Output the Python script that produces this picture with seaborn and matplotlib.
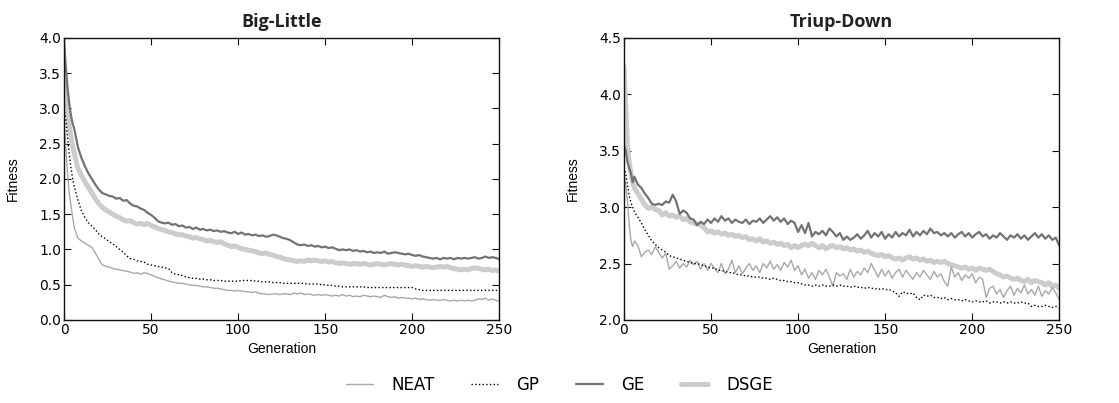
import matplotlib
matplotlib.use("Agg")
import matplotlib.pyplot as plt
import seaborn as sns
import pandas as pd
from matplotlib.lines import Line2D

# x positions (generations) shared by every series
GEN = [0, 1, 2, 3, 4, 5, 6] + list(range(8, 251, 2))

# ---------------- Big-Little ----------------
BL_NEAT = [2.90, 2.45, 2.10, 1.80, 1.62, 1.45, 1.30,
           1.16, 1.12, 1.09, 1.06, 1.03, 0.95, 0.86, 0.78, 0.76, 0.75,
           0.73, 0.72, 0.71, 0.70, 0.69, 0.68, 0.66, 0.67, 0.65, 0.67,
           0.66, 0.64, 0.62, 0.60, 0.58, 0.57, 0.55, 0.54, 0.53, 0.52,
           0.52, 0.51, 0.50, 0.49, 0.49, 0.48, 0.47, 0.47, 0.46, 0.45,
           0.45, 0.44, 0.43, 0.42, 0.42, 0.41, 0.42, 0.41, 0.40, 0.40,
           0.39, 0.40, 0.38, 0.37, 0.37, 0.36, 0.37, 0.37, 0.36, 0.37,
           0.37, 0.36, 0.38, 0.37, 0.38, 0.36, 0.37, 0.36, 0.35, 0.36,
           0.35, 0.36, 0.35, 0.34, 0.35, 0.34, 0.36, 0.34, 0.35, 0.33,
           0.34, 0.33, 0.35, 0.34, 0.33, 0.34, 0.33, 0.32, 0.35, 0.33,
           0.32, 0.33, 0.31, 0.32, 0.31, 0.31, 0.30, 0.31, 0.29, 0.30,
           0.29, 0.28, 0.29, 0.28, 0.28, 0.29, 0.28, 0.27, 0.28, 0.27,
           0.28, 0.27, 0.28, 0.27, 0.28, 0.30, 0.29, 0.31, 0.28, 0.30,
           0.28, 0.26]
BL_GP = [3.00, 2.85, 2.60, 2.35, 2.15, 2.00, 1.88,
         1.70, 1.55, 1.45, 1.38, 1.33, 1.28, 1.22, 1.18, 1.15, 1.11,
         1.08, 1.04, 1.00, 0.96, 0.91, 0.87, 0.86, 0.84, 0.83, 0.82,
         0.79, 0.78, 0.77, 0.76, 0.75, 0.74, 0.73, 0.67, 0.65, 0.64,
         0.63, 0.61, 0.60, 0.59, 0.59, 0.58, 0.58, 0.57, 0.57, 0.56,
         0.56, 0.56, 0.55, 0.55, 0.55, 0.55, 0.55, 0.56, 0.56, 0.56,
         0.56, 0.55, 0.55, 0.54, 0.54, 0.54, 0.53, 0.53, 0.53, 0.52,
         0.52, 0.52, 0.52, 0.52, 0.52, 0.52, 0.51, 0.51, 0.51, 0.51,
         0.50, 0.50, 0.49, 0.49, 0.48, 0.48, 0.47, 0.47, 0.47, 0.47,
         0.47, 0.47, 0.47, 0.46, 0.46, 0.46, 0.46, 0.46, 0.46, 0.46,
         0.46, 0.46, 0.46, 0.46, 0.46, 0.46, 0.46, 0.44, 0.43, 0.42,
         0.42, 0.42, 0.42, 0.42, 0.42, 0.42, 0.42, 0.42, 0.42, 0.42,
         0.42, 0.42, 0.42, 0.42, 0.42, 0.42, 0.42, 0.42, 0.42, 0.42,
         0.42, 0.42]
BL_GE = [3.95, 3.60, 3.30, 3.07, 2.90, 2.78, 2.70,
         2.45, 2.30, 2.18, 2.08, 2.00, 1.92, 1.85, 1.80, 1.78, 1.76,
         1.75, 1.72, 1.73, 1.69, 1.70, 1.65, 1.62, 1.61, 1.58, 1.56,
         1.52, 1.49, 1.45, 1.40, 1.38, 1.37, 1.38, 1.35, 1.36, 1.33,
         1.34, 1.31, 1.32, 1.29, 1.31, 1.28, 1.29, 1.27, 1.28, 1.26,
         1.27, 1.25, 1.26, 1.24, 1.23, 1.25, 1.22, 1.24, 1.21, 1.22,
         1.20, 1.21, 1.19, 1.20, 1.18, 1.19, 1.21, 1.20, 1.18, 1.16,
         1.15, 1.13, 1.10, 1.07, 1.06, 1.07, 1.05, 1.06, 1.04, 1.05,
         1.03, 1.04, 1.02, 1.03, 1.01, 0.99, 1.00, 0.99, 1.00, 0.98,
         0.99, 0.97, 0.98, 0.96, 0.97, 0.95, 0.96, 0.95, 0.97, 0.94,
         0.95, 0.96, 0.95, 0.94, 0.93, 0.94, 0.92, 0.91, 0.92, 0.90,
         0.89, 0.88, 0.87, 0.88, 0.86, 0.88, 0.87, 0.88, 0.86, 0.88,
         0.87, 0.88, 0.87, 0.88, 0.89, 0.87, 0.88, 0.90, 0.88, 0.89,
         0.88, 0.86]
BL_DSGE = [3.60, 3.20, 2.95, 2.75, 2.60, 2.45, 2.35,
           2.15, 2.05, 1.96, 1.88, 1.80, 1.72, 1.65, 1.60, 1.56, 1.53,
           1.50, 1.47, 1.45, 1.42, 1.40, 1.41, 1.38, 1.36, 1.37, 1.35,
           1.37, 1.34, 1.32, 1.30, 1.28, 1.27, 1.25, 1.24, 1.22, 1.21,
           1.21, 1.19, 1.18, 1.16, 1.17, 1.15, 1.14, 1.12, 1.13, 1.11,
           1.10, 1.11, 1.08, 1.06, 1.04, 1.05, 1.03, 1.01, 1.00, 0.99,
           0.98, 0.97, 0.95, 0.94, 0.95, 0.93, 0.92, 0.90, 0.89, 0.87,
           0.86, 0.85, 0.84, 0.83, 0.84, 0.83, 0.85, 0.84, 0.85, 0.84,
           0.83, 0.84, 0.82, 0.83, 0.81, 0.80, 0.81, 0.80, 0.79, 0.80,
           0.80, 0.79, 0.80, 0.79, 0.78, 0.79, 0.80, 0.79, 0.78, 0.79,
           0.80, 0.79, 0.78, 0.79, 0.78, 0.77, 0.76, 0.77, 0.76, 0.75,
           0.76, 0.75, 0.74, 0.75, 0.76, 0.75, 0.76, 0.74, 0.73, 0.72,
           0.71, 0.72, 0.71, 0.73, 0.74, 0.73, 0.72, 0.71, 0.72, 0.70,
           0.71, 0.69]

# ---------------- Triup-Down ----------------
TD_NEAT = [3.30, 3.20, 3.05, 2.85, 2.70, 2.65, 2.70,
           2.66, 2.56, 2.60, 2.62, 2.58, 2.65, 2.60, 2.55, 2.59, 2.45,
           2.48, 2.52, 2.46, 2.50, 2.47, 2.53, 2.49, 2.52, 2.45, 2.50,
           2.44, 2.50, 2.46, 2.42, 2.50, 2.41, 2.45, 2.53, 2.42, 2.48,
           2.41, 2.46, 2.50, 2.44, 2.48, 2.42, 2.50, 2.46, 2.52, 2.45,
           2.49, 2.44, 2.51, 2.47, 2.53, 2.44, 2.48, 2.40, 2.45, 2.37,
           2.42, 2.36, 2.44, 2.40, 2.45, 2.38, 2.30, 2.42, 2.39, 2.41,
           2.36, 2.45, 2.38, 2.43, 2.40, 2.46, 2.42, 2.50, 2.44, 2.38,
           2.45, 2.39, 2.44, 2.37, 2.42, 2.45, 2.38, 2.44, 2.40, 2.36,
           2.42, 2.38, 2.44, 2.40, 2.36, 2.43, 2.38, 2.41, 2.34, 2.30,
           2.47, 2.38, 2.42, 2.35, 2.40, 2.37, 2.41, 2.33, 2.38, 2.36,
           2.20, 2.28, 2.30, 2.23, 2.27, 2.20, 2.26, 2.30, 2.22, 2.28,
           2.24, 2.31, 2.23, 2.27, 2.22, 2.30, 2.21, 2.26, 2.23, 2.29,
           2.24, 2.18]
TD_GP = [3.35, 3.30, 3.20, 3.10, 3.04, 3.00, 2.96,
         2.91, 2.86, 2.80, 2.75, 2.70, 2.67, 2.64, 2.62, 2.60, 2.57,
         2.56, 2.55, 2.54, 2.53, 2.52, 2.51, 2.50, 2.50, 2.49, 2.48,
         2.47, 2.46, 2.46, 2.44, 2.44, 2.43, 2.42, 2.42, 2.41, 2.40,
         2.40, 2.39, 2.39, 2.38, 2.38, 2.38, 2.37, 2.37, 2.36, 2.37,
         2.36, 2.35, 2.35, 2.34, 2.34, 2.33, 2.33, 2.32, 2.31, 2.31,
         2.30, 2.31, 2.30, 2.31, 2.30, 2.30, 2.31, 2.30, 2.31, 2.30,
         2.30, 2.29, 2.30, 2.29, 2.29, 2.28, 2.29, 2.28, 2.28, 2.27,
         2.28, 2.27, 2.27, 2.26, 2.24, 2.21, 2.25, 2.24, 2.23, 2.24,
         2.20, 2.18, 2.22, 2.21, 2.22, 2.20, 2.20, 2.19, 2.20, 2.18,
         2.19, 2.18, 2.18, 2.17, 2.18, 2.17, 2.16, 2.17, 2.16, 2.16,
         2.17, 2.15, 2.16, 2.16, 2.15, 2.16, 2.15, 2.16, 2.15, 2.15,
         2.16, 2.15, 2.15, 2.12, 2.13, 2.12, 2.12, 2.13, 2.12, 2.11,
         2.12, 2.11]
TD_GE = [3.55, 3.50, 3.40, 3.35, 3.30, 3.22, 3.27,
         3.20, 3.17, 3.12, 3.08, 3.03, 3.02, 3.03, 3.02, 3.05, 3.04,
         3.11, 3.05, 2.94, 2.97, 2.95, 2.90, 2.89, 2.84, 2.87, 2.85,
         2.89, 2.86, 2.90, 2.87, 2.92, 2.88, 2.90, 2.86, 2.89, 2.87,
         2.86, 2.89, 2.85, 2.88, 2.87, 2.90, 2.86, 2.89, 2.92, 2.88,
         2.91, 2.87, 2.90, 2.85, 2.88, 2.86, 2.78, 2.84, 2.77, 2.86,
         2.74, 2.78, 2.76, 2.79, 2.75, 2.81, 2.78, 2.74, 2.77, 2.71,
         2.74, 2.71, 2.73, 2.76, 2.72, 2.75, 2.79, 2.73, 2.77, 2.74,
         2.78, 2.72, 2.76, 2.73, 2.78, 2.74, 2.77, 2.75, 2.80, 2.74,
         2.78, 2.75, 2.79, 2.76, 2.81, 2.77, 2.78, 2.75, 2.77, 2.74,
         2.77, 2.73, 2.76, 2.78, 2.74, 2.77, 2.73, 2.76, 2.78, 2.74,
         2.76, 2.72, 2.75, 2.73, 2.77, 2.74, 2.71, 2.75, 2.73, 2.76,
         2.72, 2.75, 2.71, 2.74, 2.77, 2.73, 2.76, 2.72, 2.75, 2.71,
         2.73, 2.66]
TD_DSGE = [4.25, 3.90, 3.55, 3.40, 3.30, 3.22, 3.17,
           3.12, 3.07, 3.02, 2.99, 3.00, 2.98, 2.97, 2.93, 2.95, 2.92,
           2.93, 2.91, 2.92, 2.89, 2.90, 2.87, 2.86, 2.85, 2.84, 2.82,
           2.78, 2.79, 2.77, 2.78, 2.76, 2.77, 2.75, 2.76, 2.74, 2.75,
           2.73, 2.74, 2.71, 2.72, 2.70, 2.72, 2.69, 2.70, 2.68, 2.69,
           2.67, 2.68, 2.66, 2.67, 2.64, 2.66, 2.64, 2.66, 2.67, 2.66,
           2.68, 2.66, 2.64, 2.66, 2.63, 2.65, 2.66, 2.64, 2.65, 2.63,
           2.64, 2.62, 2.63, 2.61, 2.62, 2.60, 2.61, 2.59, 2.58, 2.57,
           2.58, 2.56, 2.57, 2.55, 2.54, 2.55, 2.53, 2.55, 2.56, 2.54,
           2.55, 2.53, 2.54, 2.52, 2.53, 2.51, 2.52, 2.51, 2.52, 2.50,
           2.49, 2.48, 2.47, 2.46, 2.47, 2.45, 2.46, 2.44, 2.46, 2.45,
           2.44, 2.45, 2.43, 2.41, 2.40, 2.38, 2.39, 2.37, 2.36, 2.37,
           2.35, 2.34, 2.36, 2.33, 2.35, 2.34, 2.33, 2.31, 2.33, 2.30,
           2.31, 2.28]

METHODS = ["NEAT", "GP", "GE", "DSGE"]
TITLES = ["Big-Little", "Triup-Down"]
PANELS = [[BL_NEAT, BL_GP, BL_GE, BL_DSGE], [TD_NEAT, TD_GP, TD_GE, TD_DSGE]]
YLIMS = [(0.0, 4.0), (2.0, 4.5)]
YTICKS = [[0.0, 0.5, 1.0, 1.5, 2.0, 2.5, 3.0, 3.5, 4.0], [2.0, 2.5, 3.0, 3.5, 4.0, 4.5]]
XTICKS = [0, 50, 100, 150, 200, 250]

STYLE = {
    "NEAT": dict(color="#a8a8a8", lw=1.0, ls="-"),
    "GP": dict(color="#000000", lw=1.0, ls=":"),
    "GE": dict(color="#737373", lw=1.6, ls="-"),
    "DSGE": dict(color="#cccccc", lw=3.6, ls="-"),
}
DRAW_ORDER = ["DSGE", "NEAT", "GP", "GE"]

sns.set_style("ticks", {
    "xtick.direction": "in", "ytick.direction": "in",
    "xtick.top": True, "ytick.right": True,
    "axes.edgecolor": "#111111",
    "text.color": "black", "axes.labelcolor": "black",
    "xtick.color": "black", "ytick.color": "black",
})
plt.rcParams["font.family"] = ["DejaVu Sans"]

fig = plt.figure(figsize=(11.19, 4.03), dpi=100)
axes = [fig.add_axes([0.0572, 0.206, 0.389, 0.700]),
        fig.add_axes([0.5576, 0.206, 0.389, 0.700])]

for ax, title, series, ylim, yt in zip(axes, TITLES, PANELS, YLIMS, YTICKS):
    df = pd.DataFrame({"Generation": GEN})
    for m, vals in zip(METHODS, series):
        df[m] = vals
    for m in DRAW_ORDER:
        st = STYLE[m]
        sns.lineplot(data=df, x="Generation", y=m, ax=ax, color=st["color"],
                     linewidth=st["lw"], linestyle=st["ls"], legend=False)
    ax.set_xlim(0, 250)
    ax.set_ylim(*ylim)
    ax.set_xticks(XTICKS)
    ax.set_yticks(yt)
    ax.set_yticklabels([f"{v:.1f}" for v in yt])
    ax.tick_params(axis="both", which="both", direction="in", top=True, right=True,
                   length=5, width=0.8, labelsize=10, color="#111111",
                   labelcolor="black", pad=2)
    for sp in ax.spines.values():
        sp.set_linewidth(1.0)
        sp.set_color("#111111")
        sp.set_visible(True)
    ax.set_title(title, fontsize=13, fontweight="bold",
                 family=["Open Sans", "DejaVu Sans"], color="#222222", pad=8)
    ax.set_xlabel("Generation", fontsize=10, family=["Liberation Sans"], labelpad=4,
                  color="black")
    ax.set_ylabel("Fitness", fontsize=10, family=["Liberation Sans"], labelpad=14,
                  color="black")

handles = [Line2D([], [], color=STYLE[m]["color"], lw=STYLE[m]["lw"], ls=STYLE[m]["ls"])
           for m in METHODS]
fig.legend(handles, METHODS, loc="center", bbox_to_anchor=(0.5, 0.045), ncol=4,
           frameon=False, fontsize=12, handlelength=1.6, handletextpad=1.1,
           columnspacing=2.2)

fig.savefig("out.png", dpi=100)
